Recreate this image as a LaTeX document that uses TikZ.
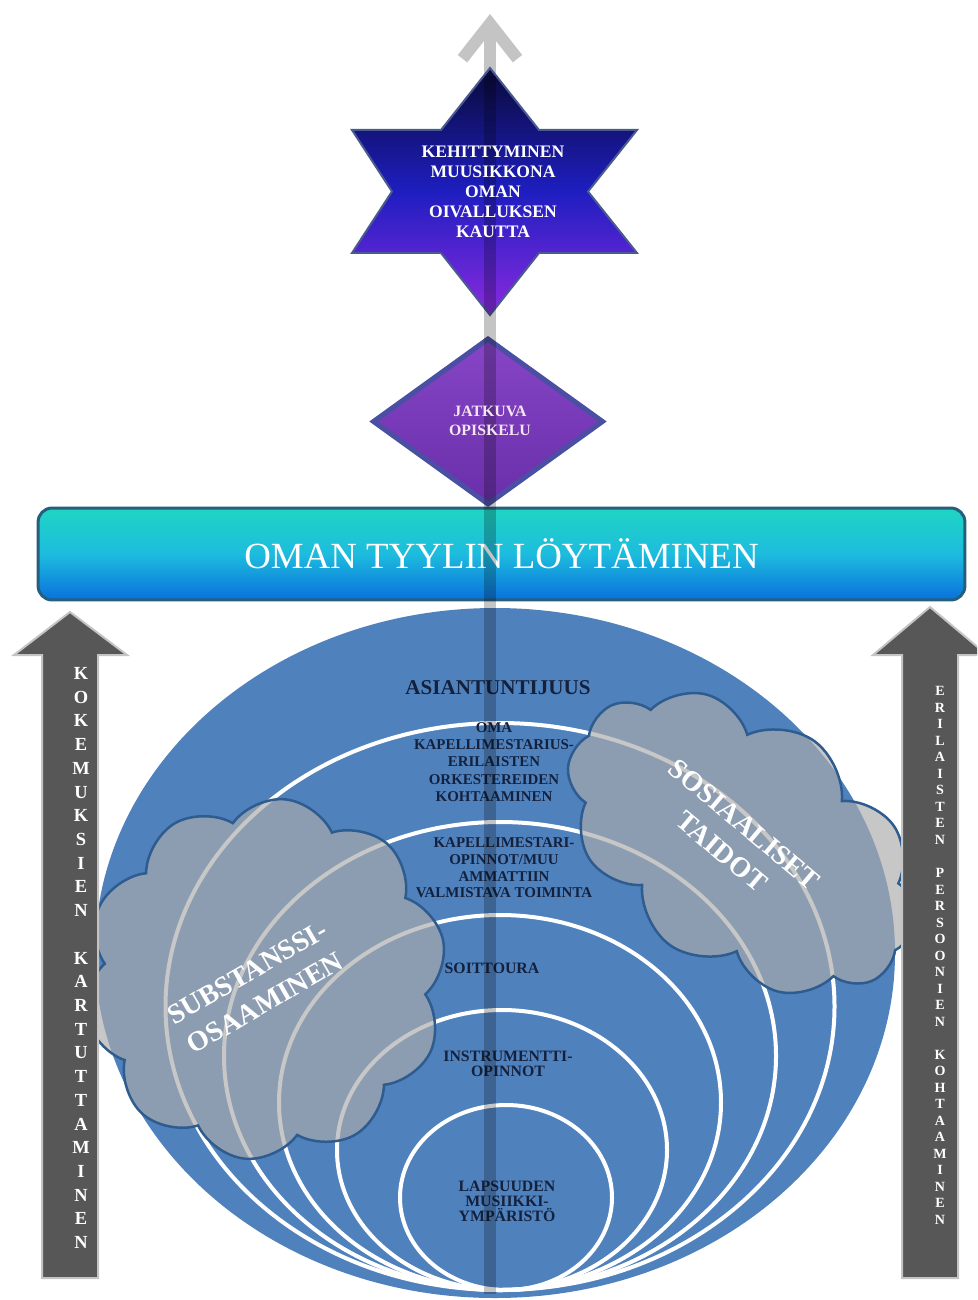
\documentclass[tikz,border=0pt]{standalone}
\usepackage{fontspec}
\setmainfont{Liberation Serif}
\usetikzlibrary{arrows.meta,shapes.geometric,shapes.symbols}

\definecolor{kehablue}{HTML}{4F81BD}
\definecolor{textnavy}{HTML}{14213D}
\definecolor{cloudgray}{HTML}{ACACAC}
\definecolor{cloudline}{HTML}{2F5C8F}
\definecolor{bannerteal}{HTML}{1FD5C2}
\definecolor{bannercyan}{HTML}{1DBCDE}
\definecolor{bannerblue}{HTML}{0A70DC}
\definecolor{bannerline}{HTML}{24607E}
\definecolor{diamondtop}{HTML}{8645C6}
\definecolor{diamondbottom}{HTML}{6A2FAA}
\definecolor{diamondline}{HTML}{4B4FA3}
\definecolor{diamondtext}{HTML}{F4E6F0}
\definecolor{starnavy}{HTML}{0A0A3A}
\definecolor{starblue}{HTML}{1E1EC0}
\definecolor{starpurple}{HTML}{8A2AE0}
\definecolor{starline}{HTML}{4A5A90}
\definecolor{arrowgray}{HTML}{575757}
\definecolor{linegray}{HTML}{C4C4C4}

\begin{document}
\begin{tikzpicture}[x=0.02cm, y=-0.02cm,
  ring/.style={draw=white, line width=0.08cm},
  circtext/.style={font=\bfseries\fontsize{8.5}{9.9}\selectfont, text=textnavy, align=center, inner sep=0pt},
  puff/.style={cloud, cloud puffs=10, cloud puff arc=120, cloud ignores aspect, draw=cloudline, line width=0.05cm, fill=cloudgray, fill opacity=0.67},
  puffword/.style={font=\bfseries\fontsize{16}{20}\selectfont, text=white, align=center, inner sep=0pt},
  bigarrow/.style={fill=arrowgray, draw=linegray, line width=0.04cm},
  vword/.style={text=white, align=center, inner sep=0pt}]

\useasboundingbox (0,0) rectangle (977,1300);
\clip (0,0) rectangle (977,1300);

% the big circle and its rings
\fill[kehablue] (495,953) ellipse [x radius=400, y radius=345];
\draw[ring] (500,1006.5) ellipse [x radius=334.5, y radius=283.5];
\draw[ring] (500,1056) ellipse [x radius=276, y radius=234];
\draw[ring] (500,1102.5) ellipse [x radius=221, y radius=187.5];
\draw[ring] (502,1150) ellipse [x radius=165, y radius=140];
\draw[ring] (506,1197.5) ellipse [x radius=106, y radius=92.5];

\node[circtext, font=\bfseries\fontsize{12}{14}\selectfont] (asiantuntijuus) at (498,688) {ASIANTUNTIJUUS};
\node[circtext] (kapellimestarius) at (494,762) {OMA\\KAPELLIMESTARIUS-\\ERILAISTEN\\ORKESTEREIDEN\\KOHTAAMINEN};
\node[circtext, font=\bfseries\fontsize{8.5}{9.5}\selectfont] (ammatti) at (504,868) {KAPELLIMESTARI-\\OPINNOT/MUU\\AMMATTIIN\\VALMISTAVA TOIMINTA};
\node[circtext, font=\bfseries\fontsize{9}{8.5}\selectfont] (soittoura) at (492,968) {SOITTOURA};
\node[circtext, font=\bfseries\fontsize{9}{8.5}\selectfont] (instrumentti) at (508,1064) {INSTRUMENTTI-\\OPINNOT};
\node[circtext, font=\bfseries\fontsize{9}{8.5}\selectfont] (lapsuus) at (507,1201) {LAPSUUDEN\\MUSIIKKI-\\YMPÄRISTÖ};

% clouds
\node[puff, minimum width=7.3cm, minimum height=7.2cm, rotate=30] (substanssi) at (265,979) {};
\node[puffword, rotate=30] (substanssiword) at (256,988) {SUBSTANSSI-\\OSAAMINEN};
\node[puff, minimum width=7.8cm, minimum height=5cm, rotate=-35] (sosiaaliset) at (742,843) {};
\node[puffword, rotate=-40] (sosiaalisetword) at (733,838) {SOSIAALISET\\TAIDOT};

% banner
\node[draw=bannerline, line width=0.06cm, rounded corners=0.28cm,
      minimum width=18.54cm, minimum height=1.84cm,
      top color=bannerteal, bottom color=bannerblue, middle color=bannercyan,
      font=\fontsize{21}{24}\selectfont, text=white] (tyyli) at (501.5,554) {OMAN TYYLIN LÖYTÄMINEN};

\node[diamond, draw=diamondline, line width=0.1cm, top color=diamondtop, bottom color=diamondbottom,
      minimum width=4.62cm, minimum height=3.34cm, inner sep=0pt] (opiskelu) at (488,421.5) {};

% arrow through the middle
\coordinate (karki) at (490,14);
\coordinate (tahti) at (490,76);
\coordinate (pohja) at (490,1294);
\draw[linegray, line width=0.24cm, -{Straight Barb[length=0.7cm,width=1.1cm]}] (tahti) -- (karki);

\draw[draw=starline, line width=0.04cm, top color=starnavy, bottom color=starpurple, middle color=starblue]
  (490,68) -- (539,130) -- (637,130) -- (588,191.5) -- (637,253) -- (539,253) -- (490,315)
  -- (441,253) -- (352,253) -- (392,191.5) -- (352,130) -- (441,130) -- cycle;

\draw[black, opacity=0.23, line width=0.24cm] (tahti) -- (pohja);

\node[font=\bfseries\fontsize{10}{11.3}\selectfont, text=white, align=center] (kehittyminen) at (493,192) {KEHITTYMINEN\\MUUSIKKONA\\OMAN\\OIVALLUKSEN\\KAUTTA};
\node[font=\bfseries\fontsize{9}{10.8}\selectfont, text=diamondtext, align=center] (jatkuva) at (490,421) {JATKUVA\\OPISKELU};

% side arrows
\draw[bigarrow] (42,1278) -- (42,655) -- (14,655) -- (70,612) -- (127,655) -- (98,655) -- (98,1278) -- cycle;
\draw[bigarrow] (902,1278) -- (902,655) -- (873,655) -- (930,607) -- (987,655) -- (958,655) -- (958,1278) -- cycle;

\node[vword, font=\bfseries\fontsize{10.5}{13.5}\selectfont] (kokemukset) at (81,958)
  {K\\O\\K\\E\\M\\U\\K\\S\\I\\E\\N\\~\\K\\A\\R\\T\\U\\T\\T\\A\\M\\I\\N\\E\\N};
\node[vword, font=\bfseries\fontsize{8}{9.4}\selectfont] (persoonat) at (940,955.5)
  {E\\R\\I\\L\\A\\I\\S\\T\\E\\N\\~\\P\\E\\R\\S\\O\\O\\N\\I\\E\\N\\~\\K\\O\\H\\T\\A\\A\\M\\I\\N\\E\\N};

\end{tikzpicture}
\end{document}
